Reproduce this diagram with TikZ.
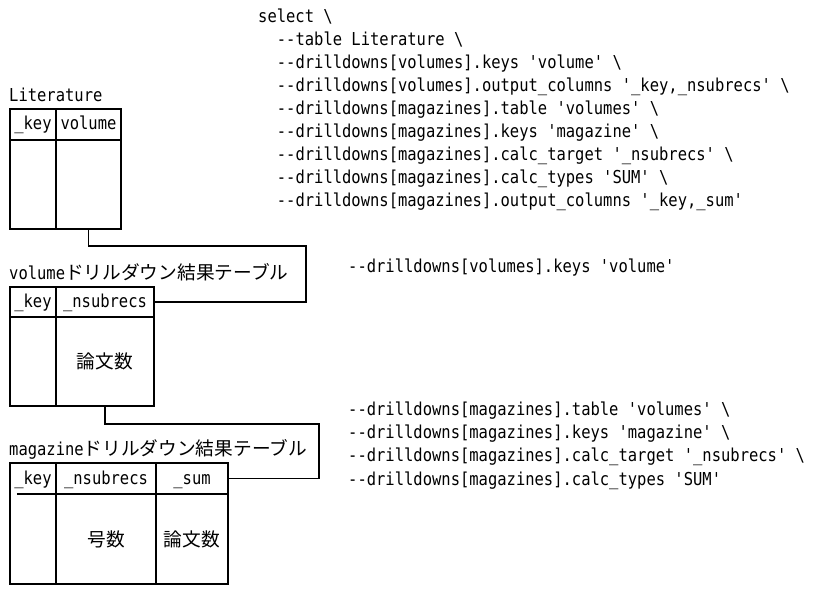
\documentclass[tikz,border=0pt]{standalone}
\usepackage{fontspec}
\setmonofont{DejaVu Sans Mono}[FakeStretch=0.87]
\newfontfamily\jpfont{Noto Sans CJK JP}
\usetikzlibrary{calc}
\newcommand\bsl{\textbackslash}
\tikzset{
  tline/.style={line width=1.8pt},
  monof/.style={font=\ttfamily\fontsize{17.8}{23}\selectfont},
  codeline/.style={monof, anchor=base west, inner sep=0pt},
  cell/.style={monof, inner sep=0pt, text height=13.5pt, text depth=2.5pt},
  jpcell/.style={font=\jpfont\fontsize{18.7}{22}\selectfont, inner sep=0pt},
  lbl/.style={anchor=base west, inner sep=0pt, font=\ttfamily\fontsize{17.8}{23}\selectfont}
}
\begin{document}
\begin{tikzpicture}[x=1pt,y=-1pt]
\useasboundingbox (0,0) rectangle (816,593);

% ---- code (top right)
\node[codeline] (c1) at (258,22.5) {select \bsl};
\node[codeline] (c2) at (276.7,45.5) {--table Literature \bsl};
\node[codeline] (c3) at (276.7,68.5) {--drilldowns[volumes].keys 'volume' \bsl};
\node[codeline] (c4) at (276.7,91.5) {--drilldowns[volumes].output\_columns '\_key,\_nsubrecs' \bsl};
\node[codeline] (c5) at (276.7,114.5) {--drilldowns[magazines].table 'volumes' \bsl};
\node[codeline] (c6) at (276.7,137.5) {--drilldowns[magazines].keys 'magazine' \bsl};
\node[codeline] (c7) at (276.7,160.5) {--drilldowns[magazines].calc\_target '\_nsubrecs' \bsl};
\node[codeline] (c8) at (276.7,183.5) {--drilldowns[magazines].calc\_types 'SUM' \bsl};
\node[codeline] (c9) at (276.7,206.5) {--drilldowns[magazines].output\_columns '\_key,\_sum'};

\node[codeline] (r1) at (348,273) {--drilldowns[volumes].keys 'volume'};
\node[codeline] (r2) at (348,415) {--drilldowns[magazines].table 'volumes' \bsl};
\node[codeline] (r3) at (348,438) {--drilldowns[magazines].keys 'magazine' \bsl};
\node[codeline] (r4) at (348,461) {--drilldowns[magazines].calc\_target '\_nsubrecs' \bsl};
\node[codeline] (r5) at (348,485) {--drilldowns[magazines].calc\_types 'SUM'};

% ---- Literature table
\node[lbl] (litlbl) at (9,102) {Literature};
\node[cell, minimum width=46pt, minimum height=31pt] (lk) at (33,124.5) {\_key};
\node[cell, minimum width=65pt, minimum height=31pt] (lv) at (88.5,124.5) {volume};
\node[cell, minimum width=46pt, minimum height=89pt] (lkb) at (33,184.5) {};
\node[cell, minimum width=65pt, minimum height=89pt] (lvb) at (88.5,184.5) {};
\draw[tline] (lk.north west) rectangle (lvb.south east);
\draw[tline] (lk.south west) -- (lv.south east);
\draw[tline] (lk.north east) -- (lkb.south east);

% ---- volume table
\node[lbl] (vollbl) at (9,280) {volume{\jpfont\fontsize{18.7}{22}\selectfont ドリルダウン結果テーブル}};
\node[cell, minimum width=46pt, minimum height=30pt] (vk) at (33,302) {\_key};
\node[cell, minimum width=98pt, minimum height=30pt] (vn) at (105,302) {\_nsubrecs};
\node[cell, minimum width=46pt, minimum height=89pt] (vkb) at (33,361.5) {};
\node[jpcell, minimum width=98pt, minimum height=89pt] (vnb) at (105,361.5) {論文数};
\draw[tline] (vk.north west) rectangle (vnb.south east);
\draw[tline] (vk.south west) -- (vn.south east);
\draw[tline] (vk.north east) -- (vkb.south east);

% ---- magazine table
\node[lbl] (maglbl) at (9,455) {magazine{\jpfont\fontsize{18.7}{22}\selectfont ドリルダウン結果テーブル}};
\node[cell, minimum width=46pt, minimum height=31pt] (mk) at (33,478.5) {\_key};
\node[cell, minimum width=100pt, minimum height=31pt] (mn) at (106,478.5) {\_nsubrecs};
\node[cell, minimum width=72pt, minimum height=31pt] (ms) at (192,478.5) {\_sum};
\node[cell, minimum width=46pt, minimum height=90pt] (mkb) at (33,539) {};
\node[jpcell, minimum width=100pt, minimum height=90pt] (mnb) at (106,539) {号数};
\node[jpcell, minimum width=72pt, minimum height=90pt] (msb) at (192,539) {論文数};
\draw[tline] (mk.north west) rectangle (msb.south east);
\draw[tline] ($(mk.south west)+(7,0)$) -- (ms.south east);
\draw[tline] (mk.north east) -- (mkb.south east);
\draw[tline] (mn.north east) -- (mnb.south east);

% ---- connectors
\draw[tline] (lvb.south) -- ++(0,17) -| ($(vn.east)+(152,0)$) -- (vn.east);
\draw[tline] (vnb.south) -- ++(0,18) -| ($(ms.east)+(91,0)$) -- (ms.east);
\end{tikzpicture}
\end{document}
